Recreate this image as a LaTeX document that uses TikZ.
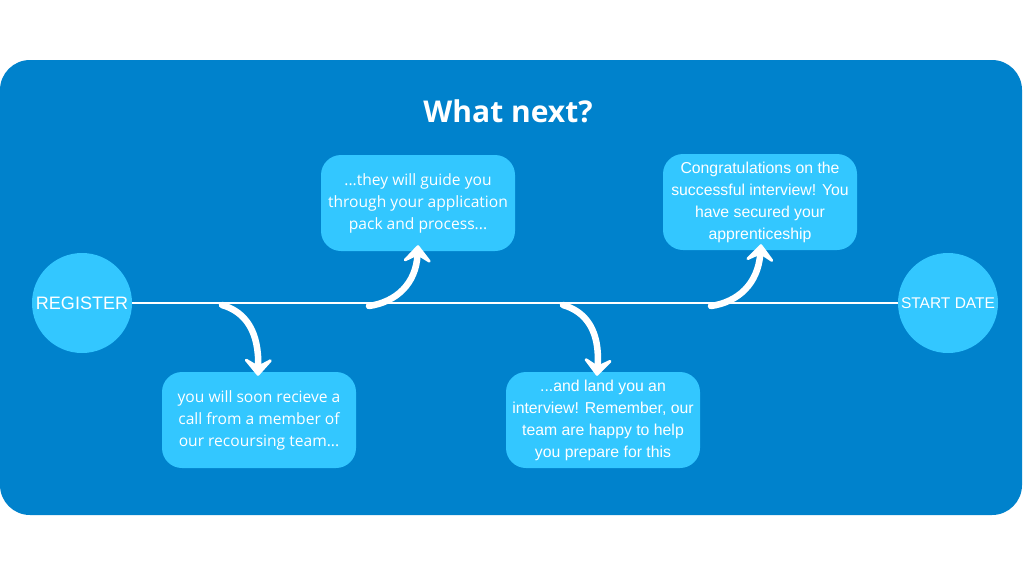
\documentclass[tikz,border=0pt]{standalone}
\usepackage{fontspec}
\setmainfont{Liberation Sans}
\newfontfamily\osans{Open Sans}
\usetikzlibrary{arrows.meta}
\definecolor{bgblue}{HTML}{0082CC}
\definecolor{lightblue}{HTML}{33C7FF}
\begin{document}
\begin{tikzpicture}[x=1pt,y=-1pt,
  card/.style={fill=lightblue, rounded corners=20pt, minimum width=194pt, minimum height=96pt, text=white, align=center, inner sep=0pt},
  stage/.style={circle, fill=lightblue, minimum size=100pt, inner sep=0pt, text=white},
  bigarrow/.style={draw=white, line width=6.5pt, line cap=round, -{Stealth[length=21pt, width=36pt, inset=10pt, round]}},
  txtA/.style={font=\osans\fontsize{15.6}{22}\selectfont},
  txtB/.style={font=\fontsize{15.8}{22}\selectfont}]
\useasboundingbox (0,0) rectangle (1024,576);
\fill[white] (0,0) rectangle (1024,576);
\fill[bgblue, rounded corners=30pt] (0,60) rectangle (1022,515);
\node[text=white, font=\osans\bfseries\fontsize{30}{34}\selectfont] (title) at (508,111) {What next?};
\node[stage, font=\fontsize{18}{20}\selectfont] (reg) at (82,303) {REGISTER};
\node[stage, font=\fontsize{15.5}{18}\selectfont] (start) at (948,303) {START DATE};
\draw[white, line width=2.4pt] (reg) -- (start);
\node[card, txtA] (b1) at (418,203) {...they will guide you\\through your application\\pack and process...};
\node[card, txtB] (b2) at (760,202) {Congratulations on the\\successful interview! You\\have secured your\\apprenticeship};
\node[card, txtA] (b3) at (259,420) {you will soon recieve a\\call from a member of\\our recoursing team...};
\node[card, txtB] (b4) at (603,420) {...and land you an\\interview! Remember, our\\team are happy to help\\you prepare for this};
\coordinate (s1) at (222,305);
\coordinate (s2) at (369,306);
\coordinate (s3) at (563,305);
\coordinate (s4) at (711,306);
\draw[bigarrow] (s1) .. controls (246,312) and (259,332) .. ([xshift=-1pt,yshift=-4pt]b3.north);
\draw[bigarrow] (s2) .. controls (396,302) and (416,284) .. ([yshift=6pt]b1.south);
\draw[bigarrow] (s3) .. controls (587,312) and (600,332) .. ([xshift=-6pt,yshift=-4pt]b4.north);
\draw[bigarrow] (s4) .. controls (738,302) and (758,284) .. ([xshift=1pt,yshift=6pt]b2.south);
\end{tikzpicture}
\end{document}
